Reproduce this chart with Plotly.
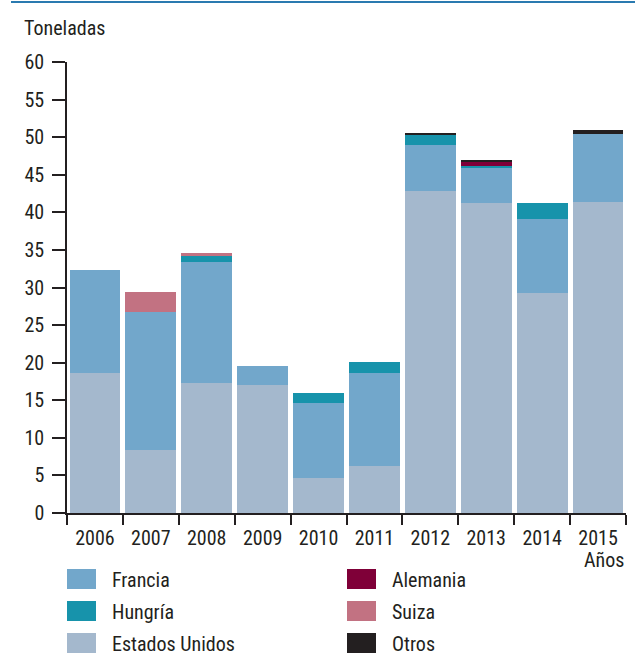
import plotly.graph_objects as go

years = ["2006", "2007", "2008", "2009", "2010", "2011", "2012", "2013", "2014", "2015"]
estados_unidos = [18.6, 8.4, 17.3, 17.0, 4.65, 6.25, 42.8, 41.2, 29.3, 41.4]
francia = [13.7, 18.3, 16.1, 2.6, 10.0, 12.4, 6.15, 4.8, 9.8, 9.0]
hungria = [0, 0, 0.8, 0, 1.35, 1.5, 1.45, 0.1, 2.1, 0]
suiza = [0, 2.7, 0.4, 0, 0, 0, 0, 0, 0, 0]
alemania = [0, 0, 0, 0, 0, 0, 0, 0.7, 0, 0]
otros = [0, 0, 0, 0, 0, 0, 0.15, 0.2, 0, 0.55]

series = [
    ("Estados Unidos", estados_unidos, "#a4b8cd"),
    ("Francia", francia, "#72a7cb"),
    ("Hungría", hungria, "#1793ab"),
    ("Suiza", suiza, "#c27282"),
    ("Alemania", alemania, "#7f0038"),
    ("Otros", otros, "#231f20"),
]
legend_order = [["Francia", "Hungría", "Estados Unidos"], ["Alemania", "Suiza", "Otros"]]
colors = {n: c for n, _, c in series}

FONT = "Liberation Sans Narrow, Roboto Condensed, Arial Narrow, sans-serif"
FS = 20

fig = go.Figure()
for name, vals, col in series:
    fig.add_trace(go.Bar(x=years, y=vals, name=name, marker_color=col,
                         marker_line_width=0, showlegend=False))

W, H = 635, 659
L, R, T, B = 67, 9, 62, 146
pw, ph = W - L - R, H - T - B

def px2paper(x, y):
    return (x - L) / pw, (H - B - y) / ph

shapes = []
annotations = []
# top rule
x0, y0 = px2paper(11, 2)
x1, _ = px2paper(635, 2)
shapes.append(dict(type="line", xref="paper", yref="paper", x0=x0, x1=x1, y0=y0, y1=y0,
                   line=dict(color="#2a7ab0", width=2)))
# legend
col_x = [67, 347]
row_y = [579, 611, 643]
for ci, names in enumerate(legend_order):
    for ri, n in enumerate(names):
        sx0, sy0 = px2paper(col_x[ci], row_y[ri] - 10)
        sx1, sy1 = px2paper(col_x[ci] + 29, row_y[ri] + 10)
        shapes.append(dict(type="rect", xref="paper", yref="paper", x0=sx0, x1=sx1,
                           y0=sy1, y1=sy0, fillcolor=colors[n], line_width=0))
        tx, ty = px2paper(col_x[ci] + 43, row_y[ri] + 1)
        annotations.append(dict(xref="paper", yref="paper", x=tx, y=ty, text=n,
                                showarrow=False, xanchor="left", yanchor="middle",
                                font=dict(size=FS, color="#231f20", family=FONT)))

ax, ay = px2paper(22, 28)
annotations.append(dict(xref="paper", yref="paper", x=ax, y=ay, text="Toneladas",
                        showarrow=False, xanchor="left", yanchor="middle",
                        font=dict(size=FS, color="#231f20", family=FONT)))
ax, ay = px2paper(626, 560)
annotations.append(dict(xref="paper", yref="paper", x=ax, y=ay, text="Años",
                        showarrow=False, xanchor="right", yanchor="middle",
                        font=dict(size=FS, color="#231f20", family=FONT)))

fig.update_layout(
    width=W, height=H,
    margin=dict(l=L, r=R, t=T, b=B, pad=0),
    barmode="stack", bargap=0.09,
    plot_bgcolor="white", paper_bgcolor="white",
    font=dict(family=FONT, size=FS, color="#231f20"),
    shapes=shapes, annotations=annotations,
    xaxis=dict(type="category", showgrid=False, showline=True, linecolor="#231f20",
               linewidth=1.5, ticks="outside", tickson="boundaries", ticklen=10,
               tickcolor="#231f20", tickwidth=1.5, zeroline=False, ticklabelstandoff=6),
    yaxis=dict(range=[0, 60], dtick=5, showgrid=False, showline=True, linecolor="#231f20",
               linewidth=1.5, ticks="outside", ticklen=13, tickcolor="#231f20",
               tickwidth=1.5, zeroline=False, ticklabelstandoff=4),
)

fig.write_html("out.html", config={"displayModeBar": False},
               post_script="document.body.style.margin='0';")
